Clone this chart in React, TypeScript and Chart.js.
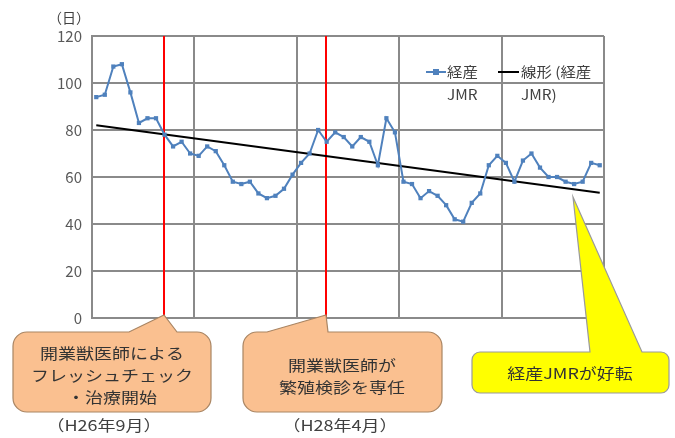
import React, { useEffect, useRef } from "react";
import { Chart, registerables } from "chart.js";
Chart.register(...registerables);

const years = ["H26", "H27", "H28", "H29", "H30"];
const monthNames = ["1月", "2月", "3月", "4月", "5月", "6月", "7月", "8月", "9月", "10月", "11月", "12月"];
const categories: string[] = [];
years.forEach((y) => monthNames.forEach((m) => categories.push(y + "年" + m)));

const jmrValues = [
  94, 95, 107, 108, 96, 83, 85, 85, 78, 73, 75, 70,
  69, 73, 71, 65, 58, 57, 58, 53, 51, 52, 55, 61,
  66, 70, 80, 75, 79, 77, 73, 77, 75, 65, 85, 79,
  58, 57, 51, 54, 52, 48, 42, 41, 49, 53, 65, 69,
  66, 58, 67, 70, 64, 60, 60, 58, 57, 58, 66, 65,
];
const trendStart = 82;
const trendEnd = 53.3;
const yTicks = [0, 20, 40, 60, 80, 100, 120];
const eventIndices = [8, 27];

const FONT = '"Noto Sans CJK JP", "Noto Sans", sans-serif';
const GRID = "#8a8a8a";

function stretchText(ctx: CanvasRenderingContext2D, text: string, x: number, y: number, size: number, sx: number, align: CanvasTextAlign = "center") {
  ctx.save();
  ctx.translate(x, y);
  ctx.scale(sx, 1);
  ctx.font = `${size}px ${FONT}`;
  ctx.textAlign = align;
  ctx.textBaseline = "middle";
  ctx.fillText(text, 0, 0);
  ctx.restore();
}

function calloutPath(ctx: CanvasRenderingContext2D, x: number, y: number, w: number, h: number, r: number, bx1: number, bx2: number, tx: number, ty: number) {
  ctx.beginPath();
  ctx.moveTo(x + r, y);
  ctx.lineTo(bx1, y);
  ctx.lineTo(tx, ty);
  ctx.lineTo(bx2, y);
  ctx.lineTo(x + w - r, y);
  ctx.arcTo(x + w, y, x + w, y + r, r);
  ctx.lineTo(x + w, y + h - r);
  ctx.arcTo(x + w, y + h, x + w - r, y + h, r);
  ctx.lineTo(x + r, y + h);
  ctx.arcTo(x, y + h, x, y + h - r, r);
  ctx.lineTo(x, y + r);
  ctx.arcTo(x, y, x + r, y, r);
  ctx.closePath();
}

const overlay = {
  id: "overlay",
  beforeDatasetsDraw(chart: any) {
    const ctx: CanvasRenderingContext2D = chart.ctx;
    const { top, bottom } = chart.chartArea;
    const xs = chart.scales.x;
    ctx.save();
    ctx.strokeStyle = "#ff0000";
    ctx.lineWidth = 2;
    eventIndices.forEach((i) => {
      const px = Math.round(xs.getPixelForValue(i)) - 1;
      ctx.beginPath();
      ctx.moveTo(px, top);
      ctx.lineTo(px, bottom);
      ctx.stroke();
    });
    ctx.restore();
  },
  afterDraw(chart: any) {
    const ctx: CanvasRenderingContext2D = chart.ctx;
    const xs = chart.scales.x;
    const { bottom } = chart.chartArea;
    ctx.save();
    // unit label
    ctx.fillStyle = "#404040";
    stretchText(ctx, "（日）", 69, 18, 14, 1.0);

    // legend
    ctx.strokeStyle = "#4f81bd";
    ctx.lineWidth = 2;
    ctx.beginPath();
    ctx.moveTo(426, 72);
    ctx.lineTo(446, 72);
    ctx.stroke();
    ctx.fillStyle = "#4f81bd";
    ctx.fillRect(433, 69, 6, 6);
    ctx.strokeStyle = "#000000";
    ctx.beginPath();
    ctx.moveTo(498, 72);
    ctx.lineTo(519, 72);
    ctx.stroke();
    ctx.fillStyle = "#404040";
    stretchText(ctx, "経産", 447, 72, 14, 1.1, "left");
    stretchText(ctx, "JMR", 447, 95, 14, 1.1, "left");
    stretchText(ctx, "線形 (経産", 521, 72, 14, 1.1, "left");
    stretchText(ctx, "JMR)", 521, 95, 14, 1.1, "left");

    // callouts
    const r1 = Math.round(xs.getPixelForValue(eventIndices[0])) - 1;
    const r2 = Math.round(xs.getPixelForValue(eventIndices[1])) - 1;
    ctx.lineWidth = 1.2;
    ctx.fillStyle = "#fac090";
    ctx.strokeStyle = "#a98563";
    calloutPath(ctx, 13, 332, 198, 80, 14, 129, 177, r1, bottom - 3);
    ctx.fill();
    ctx.stroke();
    calloutPath(ctx, 243, 332, 199, 80, 14, 267, 328, r2, bottom - 3);
    ctx.fill();
    ctx.stroke();
    ctx.fillStyle = "#ffff00";
    ctx.strokeStyle = "#9a9a9a";
    calloutPath(ctx, 472, 352, 197, 41, 8, 590, 642, 573, 197);
    ctx.fill();
    ctx.stroke();

    ctx.fillStyle = "#333333";
    stretchText(ctx, "開業獣医師による", 112, 353, 15, 1.2);
    stretchText(ctx, "フレッシュチェック", 112, 375, 15, 1.2);
    stretchText(ctx, "・治療開始", 112, 397, 15, 1.2);
    stretchText(ctx, "開業獣医師が", 342, 365, 15, 1.2);
    stretchText(ctx, "繁殖検診を専任", 342, 387, 15, 1.2);
    stretchText(ctx, "経産JMRが好転", 570, 373, 15, 1.2);
    ctx.fillStyle = "#404040";
    stretchText(ctx, "（H26年9月）", 104, 425, 15, 1.2);
    stretchText(ctx, "（H28年4月）", 340, 425, 15, 1.2);
    ctx.restore();
  },
};

export default function App() {
  const ref = useRef<HTMLCanvasElement>(null);
  useEffect(() => {
    if (!ref.current) return;
    const n = jmrValues.length;
    const trendData: (number | null)[] = categories.map(() => null);
    trendData[0] = trendStart;
    trendData[n - 1] = trendEnd;
    const chart = new Chart(ref.current, {
      type: "line",
      data: {
        labels: categories,
        datasets: [
          {
            label: "経産JMR",
            data: jmrValues,
            borderColor: "#4f81bd",
            backgroundColor: "#4f81bd",
            borderWidth: 2,
            pointStyle: "rect",
            pointRadius: 3,
            pointBorderWidth: 0,
            tension: 0,
          },
          {
            label: "線形 (経産JMR)",
            data: trendData,
            borderColor: "#000000",
            borderWidth: 2,
            pointRadius: 0,
            spanGaps: true,
          },
        ],
      },
      options: {
        animation: false,
        responsive: false,
        devicePixelRatio: 1,
        layout: { padding: { left: 0, right: 71, top: 36, bottom: 120 } },
        plugins: { legend: { display: false }, tooltip: { enabled: false } },
        scales: {
          x: {
            type: "category",
            offset: true,
            ticks: { display: false, autoSkip: false },
            grid: {
              offset: true,
              drawTicks: false,
              lineWidth: 2,
              color: (c: any) => (c.index === undefined || c.index % 12 === 0 ? GRID : "rgba(0,0,0,0)"),
            },
            border: { display: true, color: GRID, width: 2 },
            afterFit: (s: any) => {
              s.height = 0;
            },
          },
          y: {
            min: 0,
            max: 120,
            afterBuildTicks: (s: any) => {
              s.ticks = yTicks.map((v) => ({ value: v }));
            },
            ticks: { color: "#595959", padding: 10, font: { size: 15, family: FONT } },
            grid: { drawTicks: false, color: GRID, lineWidth: 2 },
            border: { display: true, color: GRID, width: 2 },
            afterFit: (s: any) => {
              s.width = 92;
            },
          },
        },
      },
      plugins: [overlay],
    });
    return () => chart.destroy();
  }, []);
  return (
    <div style={{ position: "fixed", left: 0, top: 0, width: 675, height: 438, background: "#fff" }}>
      <canvas ref={ref} width={675} height={438} style={{ display: "block" }} />
    </div>
  );
}
